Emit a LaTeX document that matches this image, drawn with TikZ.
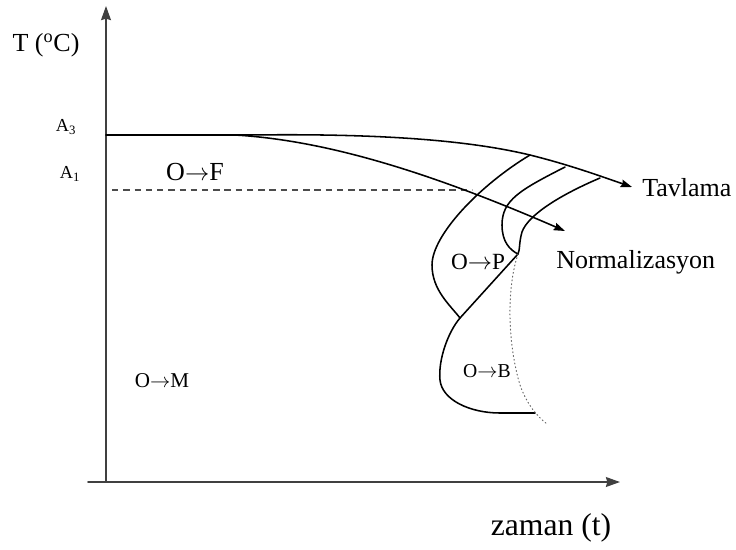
\documentclass[tikz,border=0pt]{standalone}
\usepackage{fontspec}
\setmainfont{Liberation Serif}
\usetikzlibrary{arrows.meta}

\begin{document}
\begin{tikzpicture}[x=0.025cm, y=-0.025cm, line cap=round,
    axis/.style={line width=1.3pt, black!75, -{Stealth[length=10pt, width=7pt, inset=1pt]}},
    cool/.style={line width=1.1pt, -{Stealth[length=8pt, width=5.5pt, inset=1pt]}},
    tcurve/.style={line width=1.1pt},
    lbl/.style={inner sep=0pt, font=\fontsize{18.5}{20}\selectfont}]
  % Frame of the picture
  \useasboundingbox (0,0) rectangle (736,549);

  % Axes
  \coordinate (xstart) at (88,482);
  \coordinate (origin) at (106,482);
  \coordinate (xend) at (620,482);
  \coordinate (yend) at (106,6);
  \draw[axis] (xstart) -- (xend);
  \draw[axis] (origin) -- (yend);
  \node[lbl, font=\fontsize{22.5}{24}\selectfont] (tlabel) at (551,528) {zaman (t)};
  \node[lbl, font=\fontsize{18.5}{20}\selectfont] (Tlabel) at (46,45) {T (\textsuperscript{o}C)};

  % Critical temperatures
  \node[lbl, font=\fontsize{13}{14}\selectfont] (A3) at (66,127) {A\textsubscript{3}};
  \node[lbl, font=\fontsize{13}{14}\selectfont] (A1) at (70,174) {A\textsubscript{1}};
  \coordinate (a1start) at (112,190);
  \coordinate (a1end) at (472,190);
  \draw[black!70, line width=1pt, dash pattern=on 4.5pt off 3.5pt, line cap=butt] (a1start) -- (a1end);

  % Transformation curves
  \coordinate (Ps) at (518,254);
  \coordinate (Bs) at (460,318);
  \draw[tcurve] (530,155) .. controls (480,185) and (432,235) .. (432,265)
                 .. controls (432,290) and (450,305) .. (Bs);
  \draw[tcurve] (565,167) .. controls (520,190) and (502,200) .. (502,225)
                 .. controls (502,242) and (510,250) .. (Ps);
  \draw[tcurve] (600,178) .. controls (560,195) and (528,215) .. (522,232)
                 .. controls (519,242) and (520,250) .. (Ps);
  \draw[tcurve] (Ps) -- (Bs) .. controls (448,332) and (438,360) .. (440,380)
                 .. controls (442,400) and (470,413) .. (500,413) -- (535,413);
  \draw[black!60, line width=0.7pt, dotted] (Ps) .. controls (506,290) and (508,345) .. (520,385)
                 .. controls (527,405) and (538,417) .. (547,424);

  % Cooling paths
  \coordinate (tavstart) at (106,135);
  \coordinate (tavend) at (632,187);
  \coordinate (norstart) at (235,135);
  \coordinate (norend) at (565,231);
  \draw[cool] (tavstart) -- (250,135) .. controls (400,133) and (480,143) .. (530,155)
              .. controls (570,165) and (600,176) .. (tavend);
  \draw[cool] (norstart) .. controls (320,140) and (420,168) .. (norend);
  \node[lbl, anchor=west] (tavlama) at (642,188) {Tavlama};
  \node[lbl, anchor=west] (normal) at (556,262) {Normalizasyon};

  % Phase labels
  \node[lbl] (OF) at (195,172) {O$\rightarrow$F};
  \node[lbl, font=\fontsize{16.5}{18}\selectfont] (OP) at (478,262) {O$\rightarrow$P};
  \node[lbl, font=\fontsize{14}{16}\selectfont] (OB) at (487,371) {O$\rightarrow$B};
  \node[lbl, font=\fontsize{15}{16}\selectfont] (OM) at (162,381) {O$\rightarrow$M};
\end{tikzpicture}
\end{document}
